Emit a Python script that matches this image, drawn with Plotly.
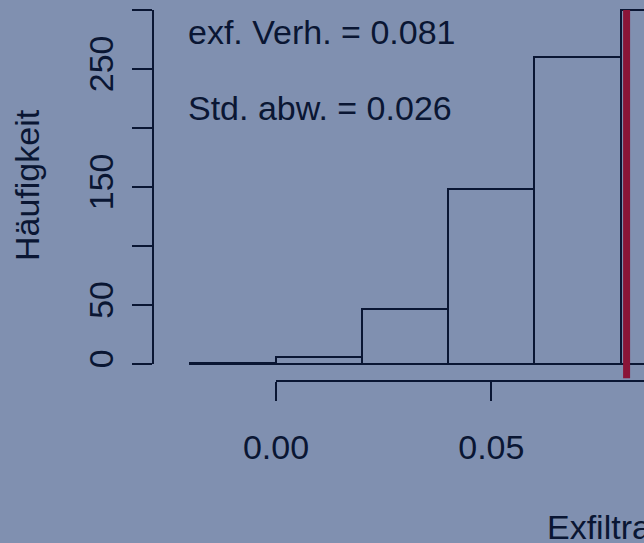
import plotly.graph_objects as go

# Histogram of exfiltration ratios (bin width 0.02)
bin_left = [-0.02, 0.00, 0.02, 0.04, 0.06, 0.08]
counts = [1, 6, 47, 148, 260, 300]
bin_width = 0.02

mean_value = 0.0814
std_value = 0.026

y_ticks = [0, 50, 100, 150, 200, 250, 300]
y_ticktext = ["0", "50", "", "150", "", "250", ""]
x_ticks = [0.00, 0.05, 0.10]
x_ticktext = ["0.00", "0.05", "0.10"]

W, H = 644, 543
BG = "#8090B0"
INK = "#0A1633"
RED = "#8A1538"
FONT = "Liberation Sans, Arial, sans-serif"
FS = 34

# pixel layout of the (cropped) R device
x_zero_px, x_scale = 276, 4307.0   # px per data unit
y_zero_px, y_scale = 364, 1.18

def px_to_x(px):
    return (px - x_zero_px) / x_scale

def px_to_y(py):
    return (y_zero_px - py) / y_scale

centers = [b + bin_width / 2 for b in bin_left]

fig = go.Figure()
fig.add_trace(go.Bar(
    x=centers, y=counts, width=bin_width,
    marker=dict(color="rgba(0,0,0,0)", line=dict(color=INK, width=2)),
    showlegend=False, hoverinfo="x+y",
))
# carrier for the visible (R style, detached) axes
fig.add_trace(go.Scatter(x=[], y=[], xaxis="x2", yaxis="y2",
                         showlegend=False, hoverinfo="skip"))

fig.add_shape(type="line", xref="x", yref="y",
              x0=mean_value, x1=mean_value,
              y0=-0.04 * max(counts), y1=max(counts),
              line=dict(color=RED, width=7))

fig.add_annotation(text=f"exf. Verh. = {mean_value:.3f}", xref="paper", yref="paper",
                   x=186 / W, y=1 - 32 / H, xanchor="left", yanchor="middle",
                   showarrow=False, font=dict(size=FS, color=INK, family=FONT))
fig.add_annotation(text=f"Std. abw. = {std_value:.3f}", xref="paper", yref="paper",
                   x=186 / W, y=1 - 108 / H, xanchor="left", yanchor="middle",
                   showarrow=False, font=dict(size=FS, color=INK, family=FONT))
fig.add_annotation(text="Häufigkeit", xref="paper", yref="paper",
                   x=27 / W, y=1 - 185 / H, textangle=-90,
                   xanchor="center", yanchor="middle",
                   showarrow=False, font=dict(size=FS, color=INK, family=FONT))
fig.add_annotation(text="Exfiltrationsverhältnis", xref="paper", yref="paper",
                   x=545 / W, y=1 - 527 / H, xanchor="left", yanchor="middle",
                   showarrow=False, font=dict(size=FS, color=INK, family=FONT))

fig.update_layout(
    width=W, height=H,
    margin=dict(l=0, r=0, t=0, b=0, autoexpand=False),
    paper_bgcolor=BG, plot_bgcolor="rgba(0,0,0,0)",
    bargap=0,
    font=dict(family=FONT, size=FS, color=INK),
    xaxis=dict(domain=[0, 1], range=[px_to_x(0), px_to_x(W)], visible=False,
               fixedrange=True, automargin=False),
    yaxis=dict(domain=[0, 1], range=[px_to_y(H), px_to_y(0)], visible=False,
               fixedrange=True, automargin=False),
    xaxis2=dict(
        domain=[x_zero_px / W, 1], range=[0, px_to_x(W)],
        anchor="free", position=1 - 381 / H,
        showline=True, linecolor=INK, linewidth=2,
        ticks="outside", ticklen=19, tickwidth=2, tickcolor=INK,
        tickvals=x_ticks, ticktext=x_ticktext, ticklabelstandoff=17,
        tickfont=dict(size=FS, color=INK, family=FONT),
        showgrid=False, zeroline=False, fixedrange=True, automargin=False,
    ),
    yaxis2=dict(
        domain=[1 - y_zero_px / H, 1 - 10 / H], range=[0, 300],
        anchor="free", position=153 / W,
        showline=True, linecolor=INK, linewidth=2,
        ticks="outside", ticklen=20, tickwidth=2, tickcolor=INK,
        tickvals=y_ticks, ticktext=y_ticktext, tickangle=-90, ticklabelstandoff=5,
        tickfont=dict(size=FS, color=INK, family=FONT),
        showgrid=False, zeroline=False, fixedrange=True, automargin=False,
    ),
)

fig.write_html("out.html", config={"displayModeBar": False},
               post_script="document.body.style.margin='0';")
